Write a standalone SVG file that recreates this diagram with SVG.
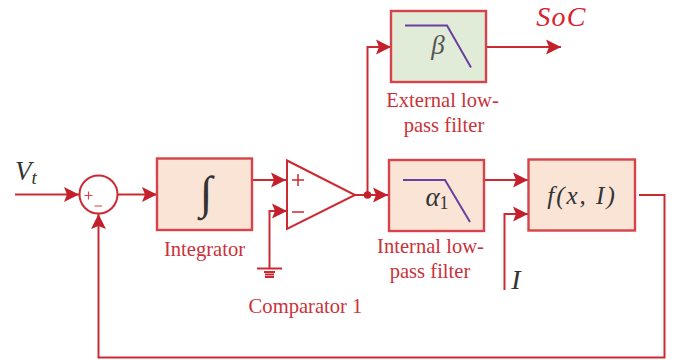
<svg xmlns="http://www.w3.org/2000/svg" width="678" height="360" viewBox="0 0 678 360">
<style>
.w{fill:none;stroke:#cb2a33;stroke-width:2}
.box{stroke:#d6434b;stroke-width:2.4}
.peach{fill:#f9e4d6}
.green{fill:#e0ecd8}
.filt{fill:none;stroke:#6b3fa0;stroke-width:2}
.lab{font-family:"Liberation Serif",serif;font-size:20.6px;fill:#c9323a;text-anchor:middle}
.math{font-family:"Liberation Serif",serif;font-style:italic;fill:#333;text-anchor:middle}
</style>
<defs>
<marker id="a" markerUnits="userSpaceOnUse" markerWidth="16" markerHeight="16" refX="15" refY="8" orient="auto"><path d="M0 0.500L15 8L0 15.500L3 8Z" fill="#c4202c"/></marker>
</defs>
<rect width="678" height="360" fill="#fff"/>
<g id="connectors">
<path class="w" d="M15 194.500H79" marker-end="url(#a)"/>
<path class="w" d="M118 194.500H157" marker-end="url(#a)"/>
<path class="w" d="M252 180H286" marker-end="url(#a)"/>
<path class="w" d="M269.500 268V211H287" marker-end="url(#a)"/>
<path class="w" d="M355 195H388" marker-end="url(#a)"/>
<path class="w" d="M367.500 195V47H391" marker-end="url(#a)"/>
<path class="w" d="M486 47H561" marker-end="url(#a)"/>
<path class="w" d="M485 180H528" marker-end="url(#a)"/>
<path class="w" d="M504.500 290V214H528" marker-end="url(#a)"/>
<path class="w" d="M639 195H664.500V357.500H98.500V214" marker-end="url(#a)"/>
<circle cx="367.500" cy="195" r="3.800" fill="#c4202c"/>
</g>
<g id="ground">
<path class="w" d="M257 268.500H282"/>
<path class="w" stroke-width="1.500" d="M264 272H275M265 274.500H274M265 277H274"/>
</g>
<g id="sum">
<circle cx="98.500" cy="194.500" r="19" fill="#fff" stroke="#cb2a33" stroke-width="2"/>
<path d="M84.500 195.500H92.500M88.500 191.500V199.500M94.500 206H102" fill="none" stroke="#d6434b" stroke-width="1.200"/>
</g>
<g id="integrator">
<rect class="box peach" x="157" y="158.500" width="95" height="71.500"/>
<text class="math" x="206" y="208" font-size="46">∫</text>
<text class="lab" x="204.500" y="256">Integrator</text>
</g>
<g id="comparator">
<path d="M287 160.500V229L355 195Z" fill="#fff" stroke="#cb2a33" stroke-width="2"/>
<path d="M292 180H304M298 174V186M292 212H304" fill="none" stroke="#cb2a33" stroke-width="1.500"/>
<text class="lab" x="305.500" y="313">Comparator 1</text>
</g>
<g id="external-filter">
<rect class="box green" x="391" y="11" width="95" height="71"/>
<path class="filt" d="M405 25.500H447L471 67.500"/>
<text class="math" x="438" y="54" font-size="27" style="fill:#555">β</text>
<text class="lab" x="442.500" y="107">External low-</text>
<text class="lab" x="444" y="132">pass filter</text>
</g>
<g id="internal-filter">
<rect class="box peach" x="389" y="160" width="95" height="71"/>
<path class="filt" d="M403 180H445L470 222"/>
<text class="math" x="437" y="206" font-size="27">α<tspan font-size="18" dy="3" font-style="normal">1</tspan></text>
<text class="lab" x="430.500" y="253">Internal low-</text>
<text class="lab" x="430" y="278">pass filter</text>
</g>
<g id="function">
<rect class="box peach" x="528.500" y="159.500" width="106.500" height="71"/>
<text class="math" x="582" y="204" font-size="25" letter-spacing="2">f(x, I)</text>
</g>
<g id="labels">
<text class="math" x="26" y="180" font-size="27">V<tspan font-size="19" dy="4">t</tspan></text>
<text class="math" x="516" y="289" font-size="28">I</text>
<text class="math" x="561.500" y="26" font-size="28" letter-spacing="1.200" style="fill:#d8232f">SoC</text>
</g>
</svg>
